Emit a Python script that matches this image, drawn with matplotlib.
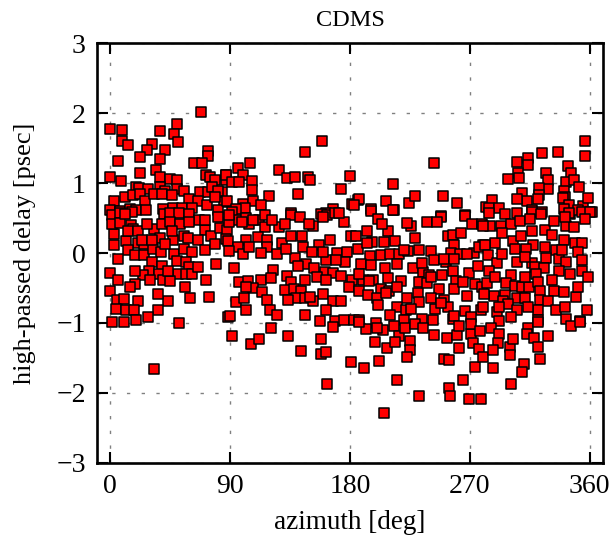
import matplotlib
matplotlib.use("Agg")
import matplotlib.pyplot as plt

plt.rcParams["font.family"] = ["Liberation Serif", "DejaVu Serif"]

# upper left (0-90 deg, above ~0.6 psec)
az_ul = [68, 0, 9, 50, 37, 47.5, 8.5, 13, 50.5, 31, 41, 27.5, 22.5, 37.5, 6, 73.5, 73.5, 63, 69, 22,
         34.5, 0, 8, 37.5, 44.5, 50, 71.5, 75, 78.5, 87, 87,
         19, 21.5, 28.5, 37.5, 41, 50, 55, 67, 73.5, 84, 76.5, 81,
         2.5, 11, 17, 22.5, 26, 33, 39, 46, 59, 65.5, 72.5, 85.5, 78.5,
         0, 7.5, 14.5, 19, 27, 39.5, 47, 54, 61.5, 80.5]
dl_ul = [2.02, 1.77, 1.76, 1.84, 1.74, 1.70, 1.60, 1.54, 1.59, 1.56, 1.47, 1.47, 1.37, 1.35, 1.32, 1.46, 1.38, 1.29, 1.28, 1.14,
         1.18, 1.09, 1.03, 1.09, 1.06, 1.04, 1.12, 1.08, 1.05, 1.12, 1.04,
         0.95, 0.93, 0.91, 0.95, 0.88, 0.92, 0.88, 0.87, 0.87, 0.87, 0.95, 0.89,
         0.75, 0.80, 0.83, 0.84, 0.74, 0.84, 0.85, 0.83, 0.77, 0.75, 0.68, 0.73, 0.80,
         0.62, 0.60, 0.63, 0.61, 0.62, 0.63, 0.65, 0.65, 0.65, 0.61]

# upper middle (90-280 deg)
az_um = [159, 146.5, 105, 95.5, 126.5, 99.5, 132.5, 138.5, 148.5, 150, 180, 87, 91.5, 96.5, 106.5,
         106.5, 173.5, 141, 119, 87.5, 99.5, 107, 113, 101, 94.5, 91.5, 136, 167.5, 162, 158.5, 181.5, 186,
         243, 212.5, 187, 183, 207, 195.5, 213, 224.5, 229, 249.5, 260.5, 248.5, 266.5, 282]
dl_um = [1.60, 1.44, 1.28, 1.21, 1.19, 1.11, 1.07, 1.08, 1.08, 1.04, 1.10, 1.12, 1.01, 1.02, 1.03,
         0.90, 0.91, 0.84, 0.81, 0.75, 0.70, 0.75, 0.68, 0.65, 0.63, 0.58, 0.57, 0.63, 0.57, 0.56, 0.70, 0.76,
         1.29, 0.99, 0.77, 0.69, 0.74, 0.63, 0.62, 0.71, 0.81, 0.82, 0.71, 0.53, 0.55, 0.66]

# upper right (280-362 deg)
az_ur = [356.5, 356.5, 324, 336, 313.5, 305, 313.5, 306, 344, 327.5, 346, 298.5, 307, 328.5, 342.5,
         348.5, 328.5, 322, 322, 321, 352, 340.5, 341.5, 340, 309.5, 313, 305.5, 286.5, 284, 292,
         317, 324, 344.5, 355, 358.5, 341, 345.5, 351, 361.5]
dl_ur = [1.60, 1.39, 1.43, 1.44, 1.36, 1.30, 1.26, 1.14, 1.25, 1.14, 1.14, 1.06, 1.07, 1.04, 1.01,
         1.04, 0.92, 0.93, 0.83, 0.77, 0.95, 0.89, 0.80, 0.78, 0.86, 0.74, 0.77, 0.76, 0.65, 0.65,
         0.61, 0.59, 0.69, 0.67, 0.78, 0.63, 0.56, 0.61, 0.59]

# centre band, 0-90 deg
az_cl = [1, 7.5, 16, 40, 45, 51.5, 59, 66.5, 80.5,
         2.5, 1, 7.5, 15.5, 17, 32.5, 39, 44.5, 52, 59, 71, 75.5, 82.5, 87.5, 87,
         12, 20.5, 25.5, 37.5, 47, 55.5, 58.5, 2.5,
         13, 18.5, 25.5, 32, 38, 47.5, 55, 61.5,
         6, 31.5, 38.5, 50, 57, 59, 79,
         0, 29, 24.5, 36.5, 51, 56.5, 61.5, 30, 39.5, 45, 71.5,
         18.5, 15, 0,
         5, 10, 20.5, 43, 60, 74,
         4.5, 11.5, 17.5, 35.5, 28.5,
         1, 10, 19.5, 51.5, 88,
         13.5, 21, 27.5, 23.5, 31, 41, 46, 66, 71, 78.5, 18.5, 43.5, 66, 36, 56, 6, 11, 71]
dl_cl = [0.55, 0.57, 0.58, 0.56, 0.57, 0.57, 0.56, 0.47, 0.51,
         0.27, 0.42, 0.43, 0.40, 0.35, 0.34, 0.41, 0.44, 0.42, 0.44, 0.33, 0.25, 0.36, 0.33, 0.20,
         0.17, 0.14, 0.13, 0.21, 0.19, 0.24, 0.21, 0.11,
         0.05, -0.03, -0.03, 0.06, 0.02, -0.02, 0.06, 0.02,
         -0.09, -0.13, -0.18, -0.12, -0.13, -0.20, -0.15,
         -0.28, -0.25, -0.31, -0.30, -0.30, -0.30, -0.30, -0.38, -0.39, -0.40, -0.39,
         -0.45, -0.49, -0.54,
         -0.67, -0.66, -0.69, -0.69, -0.65, -0.63,
         -0.80, -0.82, -0.82, -0.82, -0.91,
         -0.99, -0.98, -0.96, -1.00, -0.92,
         0.32, 0.32, 0.42, 0.18, 0.18, 0.13, 0.32, 0.18, 0.04, 0.13, -0.25, -0.25, -0.20, -0.58, -0.49, -0.39, 0.56, 0.47]

# centre band, 90-185 deg
az_cm = [96, 102, 112, 116.5, 116, 126.5, 136, 142.5, 152.5, 162.5, 168.5, 175.5, 89, 104,
         111, 101.5, 117.5, 129, 136, 144, 157, 165, 181, 88,
         95.5, 118, 145, 89, 99.5, 113, 125.5, 151.5, 170.5, 177.5,
         139, 147, 153, 141, 162, 176, 169.5, 92.5, 122.5, 161.5, 167.5,
         133, 96.5, 103, 113, 121, 136, 146.5, 155, 181.5,
         107, 131.5, 138, 143.5, 160, 179.5, 114,
         94, 100, 117.5, 139.5, 146, 152, 167, 173,
         120, 125.5, 146, 89.5,
         157.5, 168.5, 175.5, 183,
         89, 98.5, 107.5, 121.5, 131, 149.5, 159.5, 172, 104.5, 132, 159.5, 102, 162, 173, 150, 133.5, 102, 162]
dl_cm = [0.47, 0.50, 0.47, 0.54, 0.37, 0.37, 0.55, 0.51, 0.38, 0.55, 0.57, 0.44, 0.44, 0.41,
         0.23, 0.18, 0.19, 0.15, 0.24, 0.24, 0.12, 0.18, 0.24, 0.17,
         0.09, 0.09, 0.09, 0.03, -0.01, 0.00, -0.02, 0.02, 0.00, 0.02,
         -0.07, -0.16, -0.21, -0.19, -0.10, -0.13, -0.10, -0.21, -0.24, -0.27, -0.28,
         -0.33, -0.42, -0.40, -0.39, -0.36, -0.41, -0.39, -0.34, -0.39,
         -0.50, -0.53, -0.52, -0.55, -0.59, -0.49, -0.56,
         -0.70, -0.65, -0.67, -0.65, -0.65, -0.68, -0.69, -0.69,
         -0.81, -0.89, -0.89, -0.90,
         -0.97, -0.97, -0.96, -0.96,
         0.55, 0.45, 0.47, 0.47, 0.42, 0.42, 0.52, 0.57, 0.09, 0.06, 0.02, -0.49, -0.39, -0.33, -0.63, -0.67, -0.82, -0.82]

# centre band, 185-280 deg
az_cr = [195.5, 201, 212.5, 248.5, 266.5, 226, 237.5, 245, 271.5, 279, 193, 208.5, 253.5, 257.5, 263,
         196.5, 205.5, 214, 229, 184.5, 258, 280,
         186, 203.5, 210, 216.5, 223.5, 231.5, 241, 255.5, 262.5, 273, 277, 267.5, 195,
         188, 195.5, 206.5, 215.5, 227, 235, 243, 252, 257.5, 269.5, 276, 249,
         189.5, 197, 203, 208.5, 218, 231.5, 239.5, 259.5, 273.5, 246.5,
         187, 193.5, 209.5, 223, 231, 241, 250.5, 258, 267.5, 200.5,
         201, 215, 222, 231.5, 244, 253.5, 266, 278,
         187, 220.5, 234, 242.5, 257, 270.5, 199.5,
         187, 194.5, 220.5, 234, 250.5, 258, 238, 215.5, 207, 241, 265, 279, 248, 226, 258, 210, 204, 223, 193]
dl_cr = [0.60, 0.49, 0.61, 0.52, 0.53, 0.39, 0.45, 0.45, 0.41, 0.41, 0.32, 0.31, 0.25, 0.26, 0.28,
         0.16, 0.16, 0.17, 0.22, 0.25, 0.11, 0.11,
         0.06, -0.03, -0.01, -0.01, 0.03, 0.04, 0.03, 0.00, -0.01, 0.00, 0.09, -0.01, -0.04,
         -0.15, -0.17, -0.21, -0.16, -0.22, -0.27, -0.10, -0.13, -0.25, -0.29, -0.18, -0.32,
         -0.39, -0.38, -0.51, -0.35, -0.40, -0.42, -0.31, -0.40, -0.45, -0.52,
         -0.55, -0.60, -0.55, -0.65, -0.57, -0.65, -0.67, -0.51, -0.62, -0.64,
         -0.75, -0.77, -0.82, -0.70, -0.80, -0.77, -0.83, -0.81,
         -0.96, -0.96, -0.95, -0.96, -0.94, -0.91, -1.00,
         -0.30, -0.40, 0.04, -0.14, -0.08, -0.09, -0.43, -0.49, -0.57, -0.34, -0.41, -0.49, -0.72, -0.80, -0.90, -0.88, 0.42, 0.43, 0.15]

# centre band, 280-362 deg
az_ce = [284, 296.5, 305.5, 316.5, 323.5, 344.5, 354, 360, 285, 293.5, 301, 307.5, 315.5, 326.5, 333, 342.5, 348.5, 356.5, 279.5,
         288.5, 302, 308.5, 317.5, 332, 341, 349, 354, 281, 303.5, 312, 334.5, 351.5,
         283.5, 290, 305, 316.5, 327.5, 337, 342, 284.5,
         319, 325.5, 337, 345, 354.5, 359, 301, 319.5,
         282.5, 297, 304, 309.5, 314.5, 321, 333, 340.5,
         288, 296.5, 305, 311.5, 322.5, 322.5, 329, 349.5, 280.5, 294.5,
         290, 298.5, 305, 321.5, 335, 358, 280,
         300.5, 321.5, 342.5, 352.5, 292,
         294, 311.5, 339, 354, 289, 311.5, 331.5, 351.5, 291.5, 314, 341.5, 326.5, 341.5, 294, 316.5]
dl_ce = [0.57, 0.56, 0.57, 0.59, 0.56, 0.57, 0.59, 0.59, 0.38, 0.39, 0.41, 0.46, 0.48, 0.33, 0.46, 0.38, 0.37, 0.49, 0.39,
         0.15, 0.17, 0.24, 0.12, 0.26, 0.19, 0.15, 0.14, 0.11, 0.06, 0.06, 0.05, 0.01,
         -0.03, -0.14, -0.13, -0.14, -0.07, -0.08, -0.13, -0.25,
         -0.20, -0.21, -0.25, -0.30, -0.26, -0.34, -0.32, -0.30,
         -0.43, -0.43, -0.47, -0.49, -0.49, -0.41, -0.54, -0.56,
         -0.61, -0.60, -0.64, -0.64, -0.54, -0.67, -0.69, -0.63, -0.58, -0.69,
         -0.84, -0.73, -0.81, -0.82, -0.81, -0.81, -0.77,
         -0.91, -0.96, -0.94, -0.97, -0.97,
         -0.01, -0.06, 0.04, -0.10, -0.34, -0.34, -0.39, -0.49, -0.77, -0.77, -0.77, 0.09, 0.51, 0.28, 0.32]

# lower tail (below ~ -1 psec)
az_lo = [32.5, 91, 106, 112, 121, 133.5, 143.5, 158.5, 158.5, 162, 167, 180.5, 163,
         192, 186.5, 199, 204.5, 200.5, 213, 217, 221, 207.5, 214, 225, 225, 223, 228.5, 235,
         243, 252.5, 260.5, 262, 261.5, 270.5, 271, 277.5, 272, 277, 274, 280, 250.5, 254.5, 201.5,
         190.5, 215, 265, 254.5, 255, 232, 269.5, 278, 205.5,
         285.5, 291.5, 291, 287, 300, 300, 302.5, 287.5, 314, 313, 318.5, 321, 323, 329, 310.5,
         309.5, 300.5, 321.5, 346, 353]
dl_lo = [-1.66, -1.18, -1.30, -1.23, -1.07, -1.18, -1.40, -1.23, -1.45, -1.42, -1.06, -1.56, -1.87,
         -1.09, -0.99, -1.27, -1.10, -1.07, -1.05, -1.19, -1.07, -1.36, -1.27, -1.26, -1.38, -1.48, -1.01, -1.07,
         -1.17, -1.22, -1.17, -1.36, -1.04, -1.16, -1.01, -1.12, -1.28, -1.37, -1.63, -1.48, -1.51, -1.53, -1.54,
         -1.64, -1.81, -1.81, -1.93, -2.04, -2.05, -2.09, -2.09, -2.28,
         -1.07, -1.16, -1.29, -1.38, -1.35, -1.46, -1.23, -1.64, -1.07, -1.16, -1.22, -1.34, -1.51, -1.18, -1.59,
         -1.70, -1.87, -0.99, -1.05, -0.99]

azimuth = az_ul + az_um + az_ur + az_cl + az_cm + az_cr + az_ce + az_lo
delay = dl_ul + dl_um + dl_ur + dl_cl + dl_cm + dl_cr + dl_ce + dl_lo

fig = plt.figure(figsize=(6.16, 5.35), dpi=100)
ax = fig.add_axes([0.1575, 0.1346, 0.8215, 0.785])

ax.scatter(azimuth, delay, marker="s", s=54, c="#ff0000", edgecolors="black",
           linewidths=1.1, zorder=3)

ax.set_xlim(-10, 370)
ax.set_ylim(-3, 3)
ax.set_xticks([0, 90, 180, 270, 360])
ax.set_yticks([-3, -2, -1, 0, 1, 2, 3])
ax.grid(True, color="#808080", linewidth=1.0, linestyle=(0, (2.4, 8.2)))
ax.set_axisbelow(True)

ax.tick_params(direction="in", top=True, right=True, length=8, width=1.5,
               labelsize=20, pad=8)
for s in ax.spines.values():
    s.set_linewidth(1.9)

ax.set_title("CDMS", fontsize=17.5, pad=12)
ax.set_xlabel("azimuth [deg]", fontsize=19.5, labelpad=8)
ax.set_ylabel("high-passed delay [psec]", fontsize=19, labelpad=15)

fig.savefig("out.png", dpi=100)
